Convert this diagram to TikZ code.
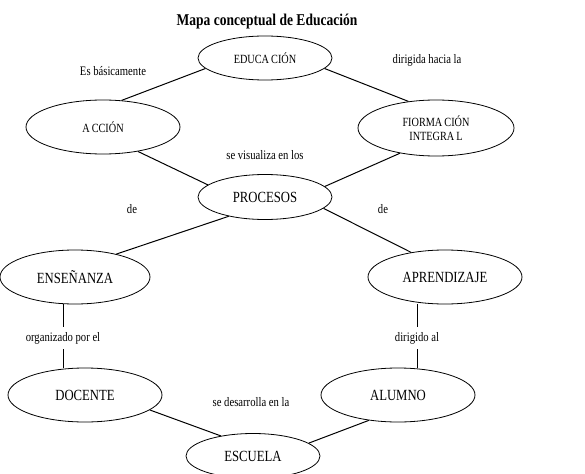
\documentclass[tikz,border=0pt]{standalone}
\usepackage{fontspec}
\setmainfont{Liberation Serif}[FakeStretch=0.82]
\usetikzlibrary{shapes.geometric}
\begin{document}
\begin{tikzpicture}[x=1pt,y=-1pt,
  ell/.style={draw, ellipse, inner sep=0pt, line width=0.8pt, align=center},
  big/.style={font=\fontsize{15.5}{17}\selectfont},
  small/.style={font=\fontsize{12.5}{14}\selectfont},
  lbl/.style={font=\fontsize{13}{15}\selectfont, inner sep=1pt},
  conn/.style={line width=1pt}]
\useasboundingbox (0,0) rectangle (585,473);
\clip (0,0) rectangle (585,473);
\node[font=\bfseries\fontsize{16.5}{18}\selectfont] (title) at (267,22) {Mapa conceptual de Educación};
\node[ell, small, minimum width=134, minimum height=44] (edu) at (265,58) {EDUCA\,CIÓN};
\node[ell, small, minimum width=154, minimum height=54] (acc) at (103,127) {A\,CCIÓN};
\node[ell, small, minimum width=156, minimum height=56] (fio) at (436,128) {FIORMA\,CIÓN\\INTEGRA\,L};
\node[ell, big, minimum width=134, minimum height=45] (pro) at (265,197) {PROCESOS};
\node[ell, big, minimum width=150, minimum height=54] (ens) at (75,277) {ENSEÑANZA};
\node[ell, big, minimum width=154, minimum height=54] (apr) at (445,277) {APRENDIZAJE};
\node[ell, big, minimum width=154, minimum height=54] (doc) at (85,395) {DOCENTE};
\node[ell, big, minimum width=154, minimum height=54] (alu) at (398,395) {ALUMNO};
\node[ell, big, minimum width=134, minimum height=45] (esc) at (253,456) {ESCUELA};

\node[lbl] (l1) at (113,71) {Es básicamente};
\node[lbl] (l2) at (427,60) {dirigida hacia la};
\node[lbl] (l3) at (265,155) {se visualiza en los};
\node[lbl] (l4) at (132,209) {de};
\node[lbl] (l5) at (383,209) {de};
\node[lbl, inner sep=5pt] (l6) at (63,338) {organizado por el};
\node[lbl, inner sep=5pt] (l7) at (417,338) {dirigido al};
\node[lbl] (l8) at (251,402) {se desarrolla en la};

\draw[conn] (edu.190.7) -- (acc.55);
\draw[conn] (edu.350.7) -- (fio.136);
\draw[conn] (acc.325) -- (pro.168.3);
\draw[conn] (fio.215.4) -- (pro.10.2);
\draw[conn] (pro.208.9) -- (ens.29.9);
\draw[conn] (pro.349.3) -- (apr.144.6);
\draw[conn] (l6.north) -- (l6.north |- ens.south);
\draw[conn] (l6.south) -- (l6.south |- doc.north);
\draw[conn] (l7.north) -- (l7.north |- apr.south);
\draw[conn] (l7.south) -- (l7.south |- alu.north);
\draw[conn] (doc.347) -- (esc.148.6);
\draw[conn] (alu.221.8) -- (esc.13.3);
\end{tikzpicture}
\end{document}
